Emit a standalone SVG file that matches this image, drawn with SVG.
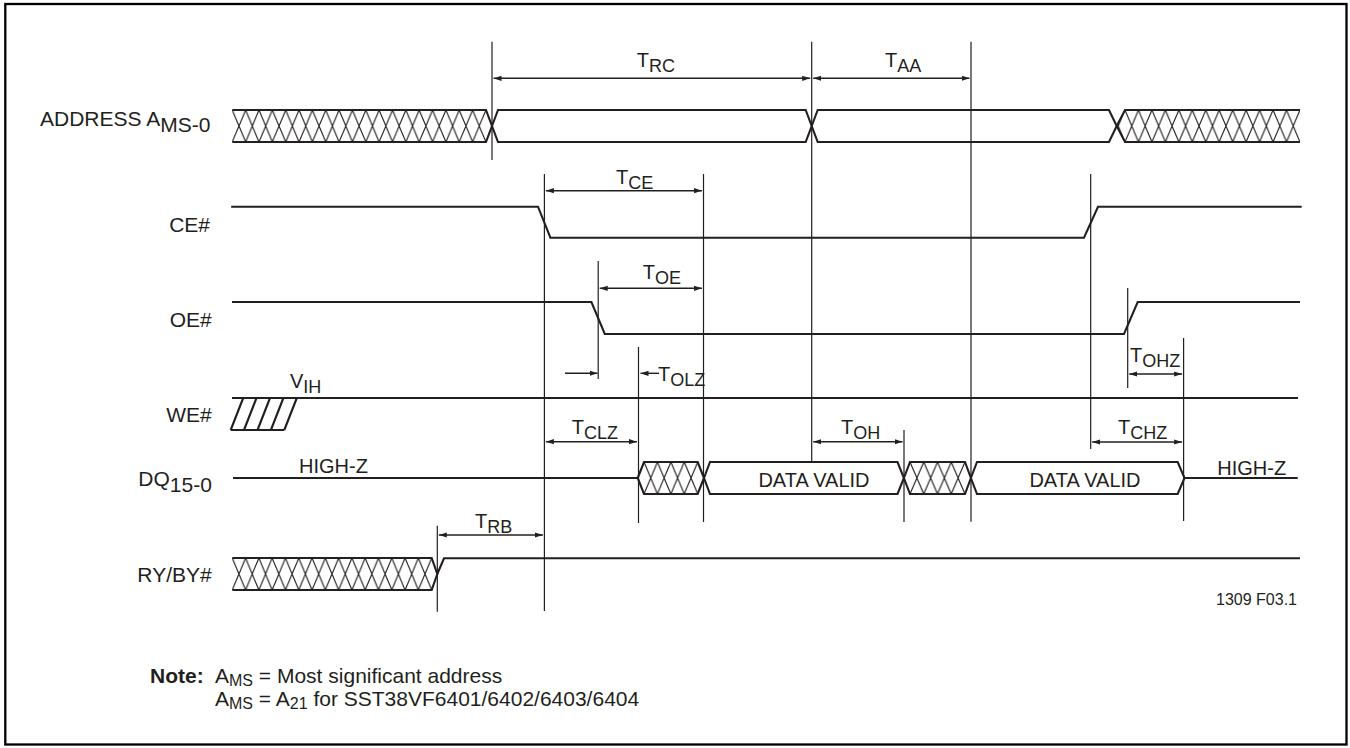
<svg xmlns="http://www.w3.org/2000/svg" width="1350" height="748" viewBox="0 0 1350 748">
<style>
text{font-family:"Liberation Sans",Arial,Helvetica,sans-serif;fill:#231f20}
.lbl{font-size:21px}
.t{font-size:20px}
.sub{font-size:18px}
.nt{font-size:21px}
.ns{font-size:16px}
.sig{fill:none;stroke:#231f20;stroke-width:2.1;stroke-linejoin:miter}
.bus{fill:none;stroke:#231f20;stroke-width:2.1;stroke-linejoin:miter}
.tl{stroke:#231f20;stroke-width:1.2;fill:none}
.arr{stroke:#231f20;stroke-width:1.4;fill:none;marker-start:url(#ah);marker-end:url(#ah)}
.arr1{stroke:#231f20;stroke-width:1.4;fill:none;marker-end:url(#ah)}
.hx{stroke:#231f20;stroke-width:1.1;fill:none}
</style>
<defs>
<marker id="ah" viewBox="0 0 8 6" refX="8" refY="3" markerWidth="8" markerHeight="6" markerUnits="userSpaceOnUse" orient="auto-start-reverse"><path d="M0,0.4 L8,3 L0,5.6 z" fill="#231f20"/></marker>
<pattern id="hAL" patternUnits="userSpaceOnUse" x="232.3" y="110" width="13.35" height="32"><path class="hx" d="M0,0 L13.35,32 M0,32 L13.35,0"/></pattern>
<pattern id="hAR" patternUnits="userSpaceOnUse" x="1125" y="110" width="13.46" height="32"><path class="hx" d="M0,0 L13.46,32 M0,32 L13.46,0"/></pattern>
<pattern id="hD1" patternUnits="userSpaceOnUse" x="644" y="462" width="13.43" height="32"><path class="hx" d="M0,0 L13.43,32 M0,32 L13.43,0"/></pattern>
<pattern id="hD2" patternUnits="userSpaceOnUse" x="910" y="462" width="13.75" height="32"><path class="hx" d="M0,0 L13.75,32 M0,32 L13.75,0"/></pattern>
<pattern id="hRY" patternUnits="userSpaceOnUse" x="232.3" y="558" width="13.29" height="32"><path class="hx" d="M0,0 L13.29,32 M0,32 L13.29,0"/></pattern>
</defs>
<rect x="0" y="0" width="1350" height="748" fill="#fff"/>
<rect id="frame" x="5.3" y="4" width="1341.2" height="740.5" fill="none" stroke="#000" stroke-width="2.3"/>

<g id="address">
<text class="lbl" x="40" y="126">ADDRESS A<tspan dy="5.7">MS-0</tspan></text>
<polygon points="232.3,110 486,110 492,126 486,142 232.3,142" fill="url(#hAL)"/>
<path class="sig" d="M232.3,110 H486 L492,126 L486,142 H232.3"/>
<polygon class="bus" points="492,126 498,110 805.7,110 811.7,126 805.7,142 498,142"/>
<polygon class="bus" points="811.7,126 817.7,110 1109,110 1116.7,126 1109,142 817.7,142"/>
<polygon points="1116.7,126 1125,110 1300,110 1300,142 1125,142" fill="url(#hAR)"/>
<path class="sig" d="M1300,110 H1125 L1116.7,126 L1125,142 H1300"/>
</g>

<g id="ce">
<text class="lbl" x="210" y="231.7" text-anchor="end">CE#</text>
<path class="sig" d="M231.2,206.7 H538 L550.4,237.7 H1084 L1098,206.7 H1301.7"/>
</g>

<g id="oe">
<text class="lbl" x="211.7" y="326.7" text-anchor="end">OE#</text>
<path class="sig" d="M232,302 H591.4 L604.8,334 H1124 L1137.7,302 H1300"/>
</g>

<g id="we">
<text class="lbl" x="211.7" y="421.7" text-anchor="end">WE#</text>
<path class="sig" d="M232,398 H1298"/>
<path class="sig" d="M230.7,430 H284.3"/>
<path class="sig" stroke-width="1.6" d="M230.7,430 L243.2,398 M244,430 L256.5,398 M257.5,430 L270,398 M270.9,430 L283.4,398 M284.3,430 L296.8,398"/>
<text class="t" x="290" y="388.3">V<tspan class="sub" dy="5">IH</tspan></text>
</g>

<g id="dq">
<text class="lbl" x="138.3" y="485.7">DQ<tspan dy="6">15-0</tspan></text>
<text class="t" x="299" y="473">HIGH-Z</text>
<path class="sig" d="M233,478 H637.7"/>
<polygon points="637.7,478 644,462 697.7,462 704,478 697.7,494 644,494" fill="url(#hD1)"/>
<polygon class="bus" points="637.7,478 644,462 697.7,462 704,478 697.7,494 644,494"/>
<polygon class="bus" points="704,478 710,462 897.5,462 903.9,478 897.5,494 710,494"/>
<text class="t" x="814" y="486.5" text-anchor="middle" font-size="19.5">DATA VALID</text>
<polygon points="903.9,478 910,462 965,462 970.9,478 965,494 910,494" fill="url(#hD2)"/>
<polygon class="bus" points="903.9,478 910,462 965,462 970.9,478 965,494 910,494"/>
<polygon class="bus" points="970.9,478 977,462 1177.7,462 1184.5,478 1177.7,494 977,494"/>
<text class="t" x="1085" y="486.5" text-anchor="middle" font-size="19.5">DATA VALID</text>
<path class="sig" d="M1184.5,478 H1297.7"/>
<text class="t" x="1217.3" y="475">HIGH-Z</text>
</g>

<g id="ryby">
<text class="lbl" x="211.7" y="581.7" text-anchor="end">RY/BY#</text>
<polygon points="232.3,558 431.7,558 437.3,574 431.7,590 232.3,590" fill="url(#hRY)"/>
<path class="sig" d="M232.3,558 H431.7 L437.3,574 L431.7,590 H232.3"/>
<path class="sig" d="M437.3,574 L444,558.3 H1300"/>
</g>

<g id="connectors">
<path class="tl" d="M492,41.7 V160 M811.7,41.7 V461 M971,41.7 V521.7 M544.4,174 V611 M703.5,174 V522 M1090.7,174 V449 M598.2,261 V379 M1127.7,288 V388 M638.5,347 V523 M1183.6,338 V521 M904,430 V522 M437.3,525.7 V611.7"/>
<line class="arr" x1="493.5" y1="78.3" x2="810.2" y2="78.3"/>
<line class="arr" x1="813.2" y1="78.3" x2="969.5" y2="78.3"/>
<line class="arr" x1="545.9" y1="190.7" x2="702" y2="190.7"/>
<line class="arr" x1="599.7" y1="288.3" x2="702" y2="288.3"/>
<line class="arr" x1="1129.2" y1="374" x2="1182.1" y2="374"/>
<line class="arr" x1="545.9" y1="441.7" x2="637" y2="441.7"/>
<line class="arr" x1="813.2" y1="441.7" x2="902.5" y2="441.7"/>
<line class="arr" x1="1092.2" y1="442" x2="1182.1" y2="442"/>
<line class="arr" x1="438.8" y1="535" x2="542.9" y2="535"/>
<line class="arr1" x1="565" y1="373.3" x2="597.5" y2="373.3"/>
<line class="arr1" x1="659" y1="373.3" x2="640.5" y2="373.3"/>
</g>

<g id="timing-labels">
<text class="t" x="636.7" y="66.7">T<tspan class="sub" dy="5">RC</tspan></text>
<text class="t" x="885" y="66.7">T<tspan class="sub" dy="5">AA</tspan></text>
<text class="t" x="616" y="184.3">T<tspan class="sub" dy="5">CE</tspan></text>
<text class="t" x="642.8" y="279">T<tspan class="sub" dy="5">OE</tspan></text>
<text class="t" x="658" y="381">T<tspan class="sub" dy="5">OLZ</tspan></text>
<text class="t" x="1130" y="361.7">T<tspan class="sub" dy="5">OHZ</tspan></text>
<text class="t" x="571.7" y="434">T<tspan class="sub" dy="5">CLZ</tspan></text>
<text class="t" x="841" y="434.3">T<tspan class="sub" dy="5">OH</tspan></text>
<text class="t" x="1118" y="434">T<tspan class="sub" dy="5">CHZ</tspan></text>
<text class="t" x="475" y="527.7">T<tspan class="sub" dy="5">RB</tspan></text>
</g>

<g id="notes">
<text x="1297" y="605" text-anchor="end" font-size="16">1309 F03.1</text>
<text class="nt" x="150" y="683" font-weight="bold">Note:</text>
<text class="nt" x="215" y="683">A<tspan class="ns" dy="3">MS</tspan><tspan dy="-3"> = Most significant address</tspan></text>
<text class="nt" x="215" y="706">A<tspan class="ns" dy="3">MS</tspan><tspan dy="-3"> = A</tspan><tspan class="ns" dy="3">21</tspan><tspan dy="-3"> for SST38VF6401/6402/6403/6404</tspan></text>
</g>
</svg>
